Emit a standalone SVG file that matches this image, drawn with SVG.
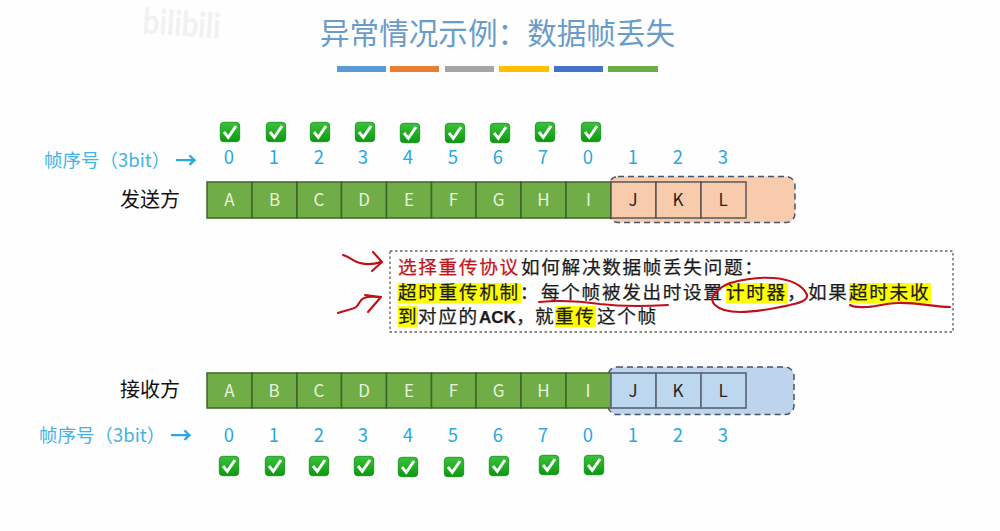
<svg xmlns="http://www.w3.org/2000/svg" xmlns:xlink="http://www.w3.org/1999/xlink" width="1000" height="531" viewBox="0 0 1000 531">
<style>
text{font-family:"Noto Sans CJK SC","Noto Sans",sans-serif}
.lat{font-family:Lato,"Open Sans",sans-serif;font-size:17px;text-anchor:middle}
.g{fill:#70ad47;stroke:#3f6428;stroke-width:1.5}
.gt{fill:#e8f2df}
.o{fill:#f8cbad;stroke:#4f4f4f;stroke-width:1.4}
.b{fill:#bdd7ee;stroke:#5f6a75;stroke-width:1.7}
.dk{fill:#222}
.num{fill:#29a9df;font-size:18.5px}
.lbl{fill:#45b2e3;font-size:18.5px}
.arr{fill:#29a9df;font-size:22px;font-weight:700}
.side{font-size:20px;fill:#111}
.box{font-size:18.6px;fill:#1c1c1c;stroke:#1c1c1c;stroke-width:.25}
.hl{fill:#ffff00}
.red{fill:none;stroke:#c00f16;stroke-width:2.1;stroke-linecap:round;stroke-linejoin:round}
.win{stroke:#44546a;stroke-width:1.5;stroke-dasharray:6 4}
</style>
<defs>
<linearGradient id="gr" x1="0" y1="0" x2="0" y2="1"><stop offset="0" stop-color="#3cc23c"/><stop offset="1" stop-color="#0a9a0e"/></linearGradient>
<g id="chk">
<rect x="-9.700" y="-9.700" width="19.400" height="19.400" rx="3.500" fill="url(#gr)" stroke="#0b8a10" stroke-width=".8"/>
<path d="M-6,0 L-1.700,5.300 L6,-6" fill="none" stroke="#fff" stroke-width="2.900"/>
</g>
</defs>
<rect width="1000" height="531" fill="#fefefe"/>
<g id="watermark">
<text x="142" y="33" font-size="35" font-weight="700" fill="#f1f1f1" style="font-family:Lato,sans-serif" transform="rotate(4 142 33)" textLength="78" lengthAdjust="spacingAndGlyphs">bilibili</text>
</g>
<g id="title">
<text x="320" y="44" font-size="29.600" fill="#6a9cc9">异常情况示例：数据帧丢失</text>
<rect x="337" y="66" width="49" height="6" fill="#5b9bd5"/>
<rect x="390" y="66" width="49" height="6" fill="#ed7d31"/>
<rect x="445" y="66" width="49" height="6" fill="#a5a5a5"/>
<rect x="499" y="66" width="50" height="6" fill="#ffc000"/>
<rect x="554" y="66" width="49" height="6" fill="#4472c4"/>
<rect x="608" y="66" width="50" height="6" fill="#70ad47"/>
</g>
<g id="sender">
<text class="side" x="120" y="207">发送方</text>
<rect class="win" x="609" y="176.500" width="186" height="46" rx="9" fill="#f8cbad"/>
<g id="sender-frames">
<rect class="g" x="207" y="182" width="45" height="36"/><rect class="g" x="252" y="182" width="45" height="36"/><rect class="g" x="297" y="182" width="44.500" height="36"/><rect class="g" x="341.500" y="182" width="45" height="36"/><rect class="g" x="386.500" y="182" width="45" height="36"/><rect class="g" x="431.500" y="182" width="44.500" height="36"/><rect class="g" x="476" y="182" width="45" height="36"/><rect class="g" x="521" y="182" width="45" height="36"/><rect class="g" x="566" y="182" width="45" height="36"/>
<rect class="o" x="611" y="182" width="45" height="36"/><rect class="o" x="656" y="182" width="45" height="36"/><rect class="o" x="701" y="182" width="45" height="36"/>
<g class="lat gt"><text x="229.500" y="206">A</text><text x="274.500" y="206">B</text><text x="319" y="206">C</text><text x="364" y="206">D</text><text x="409" y="206">E</text><text x="453.500" y="206">F</text><text x="498.500" y="206">G</text><text x="543.500" y="206">H</text><text x="588.500" y="206">I</text></g>
<g class="lat dk"><text x="633" y="206">J</text><text x="678" y="206">K</text><text x="723" y="206">L</text></g>
</g>
<text class="lbl" x="44" y="167">帧序号（3bit）<tspan class="arr" x="175" y="168">→</tspan></text>
<g class="lat num"><text x="229" y="164">0</text><text x="274" y="164">1</text><text x="319" y="164">2</text><text x="363" y="164">3</text><text x="408" y="164">4</text><text x="453" y="164">5</text><text x="498" y="164">6</text><text x="543" y="164">7</text><text x="588" y="164">0</text><text x="633" y="164">1</text><text x="678" y="164">2</text><text x="723" y="164">3</text></g>
<g id="sender-checks"><use xlink:href="#chk" href="#chk" x="230" y="132"/><use href="#chk" x="276" y="132"/><use href="#chk" x="320" y="132"/><use href="#chk" x="365" y="132"/><use href="#chk" x="410" y="133"/><use href="#chk" x="455" y="133"/><use href="#chk" x="500" y="133"/><use href="#chk" x="545" y="132"/><use href="#chk" x="591" y="132"/></g>
</g>
<g id="receiver">
<text class="side" x="120" y="397">接收方</text>
<rect class="win" x="608" y="367" width="186" height="47.500" rx="9" fill="#bdd4ec"/>
<g id="receiver-frames">
<rect class="g" x="207" y="373" width="45" height="35"/><rect class="g" x="252" y="373" width="45" height="35"/><rect class="g" x="297" y="373" width="44.500" height="35"/><rect class="g" x="341.500" y="373" width="45" height="35"/><rect class="g" x="386.500" y="373" width="45" height="35"/><rect class="g" x="431.500" y="373" width="44.500" height="35"/><rect class="g" x="476" y="373" width="45" height="35"/><rect class="g" x="521" y="373" width="45" height="35"/><rect class="g" x="566" y="373" width="45" height="35"/>
<rect class="b" x="611" y="373" width="45" height="35"/><rect class="b" x="656" y="373" width="45" height="35"/><rect class="b" x="701" y="373" width="45" height="35"/>
<g class="lat gt"><text x="229.500" y="397">A</text><text x="274" y="397">B</text><text x="319" y="397">C</text><text x="364" y="397">D</text><text x="409" y="397">E</text><text x="453.500" y="397">F</text><text x="498.500" y="397">G</text><text x="543.500" y="397">H</text><text x="588" y="397">I</text></g>
<g class="lat dk"><text x="633" y="397">J</text><text x="678" y="397">K</text><text x="723" y="397">L</text></g>
</g>
<text class="lbl" x="39" y="442">帧序号（3bit）<tspan class="arr" x="170" y="443">→</tspan></text>
<g class="lat num"><text x="229" y="442">0</text><text x="274" y="442">1</text><text x="319" y="442">2</text><text x="363" y="442">3</text><text x="408" y="442">4</text><text x="453" y="442">5</text><text x="498" y="442">6</text><text x="543" y="442">7</text><text x="588" y="442">0</text><text x="633" y="442">1</text><text x="678" y="442">2</text><text x="723" y="442">3</text></g>
<g id="receiver-checks"><use href="#chk" x="229" y="466"/><use href="#chk" x="275" y="466"/><use href="#chk" x="319" y="466"/><use href="#chk" x="364" y="466"/><use href="#chk" x="408" y="467"/><use href="#chk" x="454" y="467"/><use href="#chk" x="499" y="466"/><use href="#chk" x="549" y="465"/><use href="#chk" x="594" y="465"/></g>
</g>
<g id="note">
<rect x="390" y="251" width="563" height="81" fill="none" stroke="#666" stroke-width="1.4" stroke-dasharray="2.500 2.500"/>
<rect class="hl" x="397.500" y="283" width="124" height="20"/>
<rect class="hl" x="726" y="283" width="62" height="20"/>
<rect class="hl" x="849" y="283" width="82" height="20"/>
<rect class="hl" x="398" y="306" width="20" height="21"/>
<rect class="hl" x="555" y="306" width="41" height="21"/>
<g class="box" style="letter-spacing:1.7px">
<text x="398" y="274"><tspan fill="#c0141c" stroke="#c0141c">选择重传协议</tspan><tspan x="521">如何解决数据帧丢失问题：</tspan></text>
<text x="398" y="299">超时重传机制：<tspan x="541">每个帧被发出时设置</tspan><tspan x="726">计时器，</tspan><tspan x="808">如果</tspan><tspan x="849">超时未收</tspan></text>
<text x="398" y="323">到<tspan x="418">对应的</tspan><tspan x="479" font-weight="700" style="letter-spacing:0;font-family:'Liberation Sans',sans-serif;font-size:17px">ACK</tspan><tspan x="516" style="letter-spacing:0">，</tspan><tspan x="535">就</tspan><tspan x="555">重传</tspan><tspan x="597">这个帧</tspan></text>
</g>
</g>
<g id="connectors">
<path class="red" d="M343,255 C350,257 354,262 360,263 C367,265 375,264 381,262 M373,252 L382,262 L372,271"/>
<path class="red" d="M338,313 C345,310 352,310 356,307 C360,304 359,300 364,298 C369,296 375,297 380,297 M365,295 L381,297 L368,312"/>
<path class="red" d="M539,302 C560,300 580,301 600,304 C625,307 650,306 668,305"/>
<path class="red" d="M730,283 C745,279 760,277 773,278 C790,279 803,285 807,295 C808,301 798,303 790,305 C772,309 755,312 740,312 C728,312 720,310 715,305 C710,300 712,296 716,292 C720,288 725,285 730,283"/>
<path class="red" d="M850,305 C855,308 860,307 868,307 C880,306 888,303 897,303 C915,302 935,307 950,307"/>
</g>
</svg>
